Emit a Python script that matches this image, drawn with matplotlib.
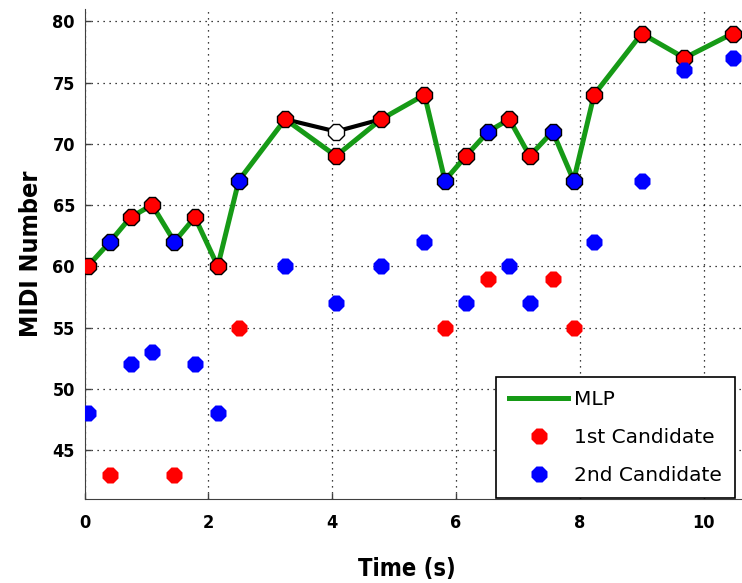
import matplotlib
matplotlib.use("Agg")
import matplotlib.pyplot as plt

# tiempos de cada nota (s)
tiempos = [0.05, 0.41, 0.74, 1.09, 1.45, 1.78, 2.15, 2.49, 3.24, 4.06, 4.79,
           5.49, 5.82, 6.16, 6.52, 6.86, 7.19, 7.56, 7.90, 8.23, 9.00, 9.69, 10.47]
# primer y segundo candidato (numero MIDI)
cand1 = [60, 43, 64, 65, 43, 64, 60, 55, 72, 69, 72, 74, 55, 69, 59, 72, 69, 59, 55, 74, 79, 77, 79]
cand2 = [48, 62, 52, 53, 62, 52, 48, 67, 60, 57, 60, 62, 67, 57, 71, 60, 57, 71, 67, 62, 67, 76, 77]
# salida del MLP
mlp = [60, 62, 64, 65, 62, 64, 60, 67, 72, 69, 72, 74, 67, 69, 71, 72, 69, 71, 67, 74, 79, 77, 79]
# camino alternativo (negro)
alt_t = [3.24, 4.06, 4.79]
alt_v = [72, 71, 72]

verde = "#169a16"

fig = plt.figure(figsize=(7.42, 5.83), dpi=100)
ax = fig.add_axes([84.7 / 742, 84 / 583, 657.3 / 742, 490 / 583])

ax.plot(alt_t, alt_v, color="black", lw=3, zorder=3)
ax.plot(tiempos, mlp, color=verde, lw=3.6, zorder=4, label="MLP")
ax.plot(alt_t[1], alt_v[1], marker="8", ms=12.5, mfc="white", mec="black", mew=1, zorder=5)

for t, a, b, m in zip(tiempos, cand1, cand2, mlp):
    if m == a:
        ax.plot(t, a, marker="8", ms=12.5, mfc="red", mec="black", mew=1, zorder=5)
        ax.plot(t, b, marker="8", ms=11.8, mfc="blue", mec="none", zorder=6)
    else:
        ax.plot(t, b, marker="8", ms=12.5, mfc="blue", mec="black", mew=1, zorder=5)
        ax.plot(t, a, marker="8", ms=11.8, mfc="red", mec="none", zorder=6)

# solo para la leyenda
ax.plot([], [], marker="8", ms=11.8, mfc="red", mec="none", ls="", label="1st Candidate")
ax.plot([], [], marker="8", ms=11.8, mfc="blue", mec="none", ls="", label="2nd Candidate")

ax.set_xlim(0, 10.62)
ax.set_ylim(41, 81)
ax.set_xticks([0, 2, 4, 6, 8, 10])
ax.set_yticks([45, 50, 55, 60, 65, 70, 75, 80])

ax.grid(True, color="black", lw=0.9, linestyle=(0, (1, 3.8)))
ax.set_axisbelow(True)

ax.spines["top"].set_visible(False)
ax.spines["right"].set_visible(False)
ax.spines["left"].set_color("#404040")
ax.spines["bottom"].set_color("#404040")
ax.tick_params(direction="in", length=4, width=1, color="#404040")
ax.tick_params(axis="y", pad=7)
ax.tick_params(axis="x", pad=11)
for lab in ax.get_xticklabels() + ax.get_yticklabels():
    lab.set_fontsize(13)
    lab.set_fontweight("bold")
    lab.set_fontstretch("condensed")

ax.set_xlabel("Time (s)", fontsize=17, fontweight="heavy", fontstretch="condensed")
ax.set_ylabel("MIDI Number", fontsize=18, fontweight="heavy", fontstretch="condensed")
ax.xaxis.set_label_coords(0.49, -0.118)
ax.yaxis.set_label_coords(-0.063, 0.5)

leg = ax.legend(loc="lower right", bbox_to_anchor=(0.989, 0.002), borderaxespad=0,
                fontsize=14.5, handlelength=2.9, handletextpad=0.3, labelspacing=0.95,
                borderpad=0.65, fancybox=False, framealpha=1, edgecolor="black", numpoints=1)
leg.get_frame().set_linewidth(1.2)

fig.savefig("out.png", dpi=100)
